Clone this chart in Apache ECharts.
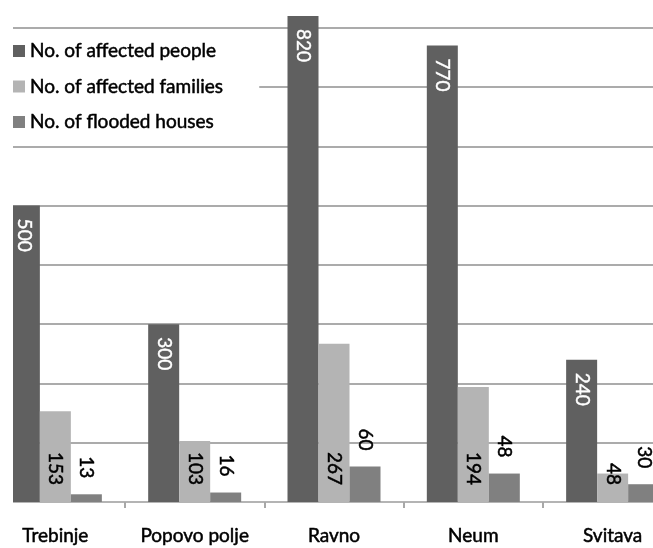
<!DOCTYPE html>
<html>
<head>
<meta charset="utf-8">
<script src="https://cdn.jsdelivr.net/npm/echarts@6/dist/echarts.min.js"></script>
<style>html,body{margin:0;padding:0;background:#fff}#c{width:653px;height:548px}</style>
</head>
<body>
<div id="c"></div>
<script>
var categories = ['Trebinje', 'Popovo polje', 'Ravno', 'Neum', 'Svitava'];
var seriesNames = ['No. of affected people', 'No. of affected families', 'No. of flooded houses'];
var affectedPeople = [500, 300, 820, 770, 240];
var affectedFamilies = [153, 103, 267, 194, 48];
var floodedHouses = [13, 16, 60, 48, 30];
var yTicks = [0, 100, 200, 300, 400, 500, 600, 700, 800, 900];

var FONT = 'Lato';
var chart = echarts.init(document.getElementById('c'), null, {renderer: 'canvas'});
var lblBase = {show: true, rotate: -90, fontFamily: FONT, fontSize: 19, verticalAlign: 'middle'};
function thick(color, w) { return {textBorderColor: color, textBorderWidth: w}; }
chart.setOption({
  animation: false,
  backgroundColor: '#ffffff',
  grid: {left: -14.3, top: -31.5, width: 696.6, height: 533.5, containLabel: false, outerBoundsMode: 'none'},
  legend: {
    orient: 'vertical', left: 13, top: 33,
    data: seriesNames,
    icon: 'rect', itemWidth: 12, itemHeight: 12, itemGap: 15.5,
    padding: [8, 36, 8, 0],
    backgroundColor: '#ffffff',
    textStyle: Object.assign({fontFamily: FONT, fontSize: 19, color: '#000', lineHeight: 20}, thick('#000', 0.5))
  },
  xAxis: {
    type: 'category', data: categories,
    axisLine: {lineStyle: {color: '#b4b4b4', width: 2}},
    axisTick: {show: true, length: 6, lineStyle: {color: '#a8a8a8', width: 2}},
    axisLabel: Object.assign({interval: 0, fontFamily: FONT, fontSize: 19, color: '#000', margin: 24}, thick('#000', 0.5))
  },
  yAxis: {
    type: 'value', min: yTicks[0], max: yTicks[yTicks.length - 1], interval: 100,
    axisLabel: {show: false}, axisLine: {show: false}, axisTick: {show: false},
    splitLine: {lineStyle: {color: '#ababab', width: 2}}
  },
  series: [
    {name: seriesNames[0], type: 'bar', data: affectedPeople, barWidth: 31, barGap: '0%',
     itemStyle: {color: '#606060'},
     label: Object.assign({}, lblBase, {position: 'insideTop', distance: 13, align: 'left', color: '#ffffff'}, thick('#ffffff', 0.4))},
    {name: seriesNames[1], type: 'bar', data: affectedFamilies, barWidth: 31, barGap: '0%',
     itemStyle: {color: '#b4b4b4'},
     label: Object.assign({}, lblBase, {position: 'insideBottom', distance: 17, align: 'right', color: '#000'}, thick('#000', 0.5))},
    {name: seriesNames[2], type: 'bar', data: floodedHouses, barWidth: 31, barGap: '0%',
     itemStyle: {color: '#808080'},
     label: Object.assign({}, lblBase, {position: 'top', distance: 16, align: 'right', color: '#000'}, thick('#000', 0.5))}
  ],
  graphic: [{type: 'rect', left: 0, top: 0, shape: {width: 13, height: 548}, style: {fill: '#ffffff'}, z: 100}]
});
</script>
</body>
</html>
